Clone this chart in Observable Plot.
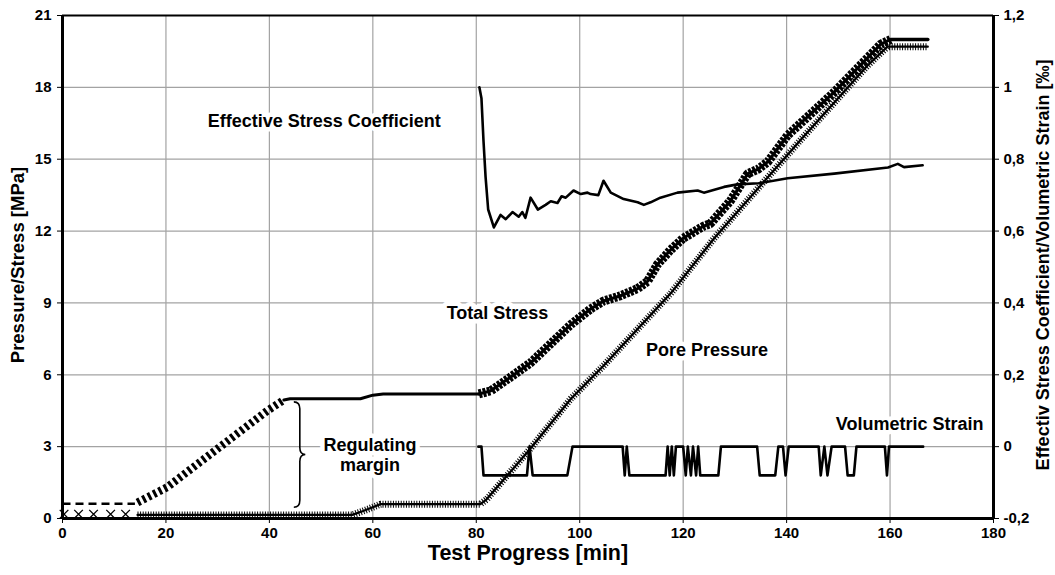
<!DOCTYPE html>
<html>
<head>
<meta charset="utf-8">
<script src="https://cdn.jsdelivr.net/npm/d3@7"></script>
<script src="https://cdn.jsdelivr.net/npm/@observablehq/plot@0.6"></script>
<style>
  html, body { margin: 0; padding: 0; background: #fff; }
  #chart svg { display: block; }
</style>
</head>
<body>
<div id="chart"></div>
<script>
// ---- ticks ----
const xTicks = [0, 20, 40, 60, 80, 100, 120, 140, 160, 180];
const yTicks = [0, 3, 6, 9, 12, 15, 18, 21];
const rightTicks = [-0.2, 0, 0.2, 0.4, 0.6, 0.8, 1, 1.2];
const rightTickLabels = ["-0,2", "0", "0,2", "0,4", "0,6", "0,8", "1", "1,2"];

// ---- Total Stress [MPa] (t in min) ----
const totalStressEarly = [[0, 0.62], [14, 0.62]];
const totalStressRamp1 = [[14.5, 0.67], [20.2, 1.3], [29.9, 2.9], [39.6, 4.5], [42.8, 4.95]];
const totalStressPlateau = [[42.8, 4.95], [44, 5.0], [57.6, 5.0], [60, 5.15], [62, 5.2], [80.5, 5.2]];
const totalStressRamp2 = [[80.5, 5.2], [82.8, 5.33], [86.6, 5.9], [90.5, 6.5], [94.4, 7.3], [98.3, 8.1],
  [102.1, 8.75], [104.6, 9.08], [107.9, 9.3], [111.2, 9.6], [113.1, 9.9], [115.0, 10.6], [117.5, 11.2],
  [120, 11.7], [123.9, 12.2], [125.2, 12.3], [129.1, 13.25], [132.5, 14.4], [134.6, 14.6], [136.4, 14.9],
  [140.2, 16.0], [144.7, 16.9], [149.2, 17.8], [153.7, 18.8], [158.2, 19.8], [160.1, 20.0]];
const totalStressEnd = [[160.1, 20.0], [167.3, 20.0]];

// ---- Pore Pressure [MPa] ----
const poreEarly = [[0.3, 0.18], [3.1, 0.18], [6, 0.18], [9.3, 0.18], [12.2, 0.18]];
const porePressure = [[14.5, 0.15], [56, 0.15], [58, 0.3], [61.5, 0.6], [80.8, 0.6], [82, 0.8],
  [90, 2.8], [98.3, 5.0], [104.7, 6.4], [117.6, 9.4], [126, 11.7], [142.7, 15.8], [155.6, 18.9],
  [159.5, 19.7], [167.3, 19.7]];

// ---- Effective Stress Coefficient [-] (right axis) ----
const effStressCoef = [[80.6, 1.0], [81.0, 0.97], [81.4, 0.85], [81.8, 0.75], [82.3, 0.66], [83.4, 0.61],
  [84.7, 0.645], [85.7, 0.633], [87.0, 0.653], [88.2, 0.64], [88.9, 0.653], [89.5, 0.637], [90.5, 0.693],
  [91.9, 0.66], [93.4, 0.673], [94.4, 0.683], [95.7, 0.678], [96.5, 0.697], [97.3, 0.693], [98.8, 0.713],
  [100.2, 0.703], [101.5, 0.707], [102.1, 0.703], [103.6, 0.70], [104.6, 0.74], [106.0, 0.707],
  [108.5, 0.689], [111.2, 0.68], [112.4, 0.673], [113.7, 0.68], [115.6, 0.693], [118.9, 0.707],
  [122.8, 0.713], [124.0, 0.707], [127.9, 0.723], [130.5, 0.73], [134.6, 0.733], [140.2, 0.747],
  [149.2, 0.76], [159.6, 0.777], [161.5, 0.787], [162.7, 0.778], [166.3, 0.783]];

// ---- Volumetric Strain [‰] (right axis) ----
const volStrain = [[80.4, 0], [81.0, 0], [81.4, -0.08], [89.8, -0.08], [90.3, 0], [90.9, -0.08],
  [97.6, -0.08], [98.6, 0], [108.3, 0], [108.7, -0.08], [109.1, 0], [109.6, -0.08], [116.6, -0.08],
  [117.0, 0], [117.4, -0.08], [117.8, 0], [118.2, -0.08], [118.6, 0], [120.0, 0], [120.5, -0.08],
  [120.9, 0], [121.5, -0.08], [121.9, 0], [122.5, -0.08], [122.9, 0], [123.3, -0.08], [126.8, -0.08],
  [127.3, 0], [134.3, 0], [134.8, -0.08], [137.8, -0.08], [138.4, 0], [139.3, 0], [139.8, -0.08],
  [140.4, 0], [146.2, 0], [146.6, -0.08], [147.3, 0], [147.9, -0.08], [148.7, 0], [151.3, 0],
  [151.8, -0.08], [153.0, -0.08], [153.5, 0], [159.0, 0], [159.4, -0.08], [159.8, 0], [166.4, 0]];

// ---- annotations (data units) ----
const labels = [
  {t: 50.6, p: 16.6, text: "Effective Stress Coefficient"},
  {t: 84.1, p: 8.58, text: "Total Stress"},
  {t: 124.6, p: 7.04, text: "Pore Pressure"},
  {t: 163.8, p: 3.96, text: "Volumetric Strain"},
  {t: 59.45, p: 2.67, text: "Regulating\nmargin"}
];
const brace = {t: 45.4, top: 4.85, bottom: 0.45};

// right axis (coefficient / strain) -> left axis (MPa)
const toLeft = v => (v + 0.2) * 15;
const rightPos = rightTicks.map(toLeft);
const rightLabelFor = d => rightTickLabels[rightPos.findIndex(p => Math.abs(p - d) < 1e-6)];

const X = d => d[0], Y = d => d[1], YR = d => toLeft(d[1]);
const font = "'Liberation Sans', Arial, sans-serif";

const braceMark = (index, scales) => {
  const x0 = scales.x(brace.t), y0 = scales.y(brace.top), y1 = scales.y(brace.bottom);
  const ym = (y0 + y1) / 2, b = x0 + 3, w = 5.5;
  const d = `M${x0 - 3},${y0} Q${b},${y0} ${b},${y0 + 7} L${b},${ym - 7} Q${b},${ym} ${b + w},${ym} ` +
            `Q${b},${ym} ${b},${ym + 7} L${b},${y1 - 7} Q${b},${y1} ${x0 - 3},${y1}`;
  const p = d3.create("svg:path").attr("d", d).attr("fill", "none").attr("stroke", "black").attr("stroke-width", 1.6);
  return p.node();
};

const butt = {strokeLinecap: "butt", strokeLinejoin: "miter"};

const chart = Plot.plot({
  width: 1055,
  height: 575,
  marginLeft: 62,
  marginRight: 62,
  marginTop: 15,
  marginBottom: 57,
  style: {fontFamily: font, background: "white", color: "black"},
  x: {domain: [0, 180]},
  y: {domain: [0, 21]},
  marks: [
    Plot.gridX(xTicks, {stroke: "#a3a3a3", strokeOpacity: 1, strokeWidth: 1.2}),
    Plot.gridY(yTicks, {stroke: "#a3a3a3", strokeOpacity: 1, strokeWidth: 1.2}),

    // Total stress
    Plot.line(totalStressEarly, {x: X, y: Y, stroke: "black", strokeWidth: 2.5, strokeDasharray: "8,5", ...butt}),
    Plot.line(totalStressRamp1, {x: X, y: Y, stroke: "black", strokeWidth: 8, strokeDasharray: "3,3", ...butt}),
    Plot.line(totalStressPlateau, {x: X, y: Y, stroke: "black", strokeWidth: 3}),
    Plot.line(totalStressRamp2, {x: X, y: Y, stroke: "black", strokeWidth: 3}),
    Plot.line(totalStressRamp2, {x: X, y: Y, stroke: "black", strokeWidth: 9, strokeDasharray: "3,1.3", ...butt}),
    Plot.line(totalStressEnd, {x: X, y: Y, stroke: "black", strokeWidth: 3.5}),

    // Pore pressure
    Plot.dot(poreEarly, {x: X, y: Y, symbol: "times", r: 4, stroke: "black", strokeWidth: 1.3}),
    Plot.line(porePressure, {x: X, y: Y, stroke: "black", strokeWidth: 2.2}),
    Plot.line(porePressure, {x: X, y: Y, stroke: "black", strokeWidth: 7, strokeDasharray: "1,1.6", ...butt}),

    // Effective stress coefficient & volumetric strain (right axis)
    Plot.line(effStressCoef, {x: X, y: YR, stroke: "black", strokeWidth: 2.6}),
    Plot.line(volStrain, {x: X, y: YR, stroke: "black", strokeWidth: 2.6}),

    // frame
    Plot.ruleY([21], {stroke: "black", strokeWidth: 1.8}),
    Plot.ruleY([0], {stroke: "black", strokeWidth: 3}),
    Plot.ruleX([0], {stroke: "black", strokeWidth: 3}),
    Plot.ruleX([180], {stroke: "black", strokeWidth: 3}),

    // axes
    Plot.axisX(xTicks, {anchor: "bottom", tickSize: 5, tickPadding: 4, fontSize: 15, fontWeight: "bold", label: null}),
    Plot.axisY(yTicks, {anchor: "left", tickSize: 5, tickPadding: 6, fontSize: 15, fontWeight: "bold", label: null}),
    Plot.axisY(rightPos, {anchor: "right", tickSize: 5, tickPadding: 5, fontSize: 15, fontWeight: "bold",
      tickFormat: rightLabelFor, label: null}),

    // axis titles
    Plot.text(["Test Progress [min]"], {frameAnchor: "bottom", textAnchor: "middle", dy: 41, fontSize: 21.5, fontWeight: "bold"}),
    Plot.text(["Pressure/Stress [MPa]"], {frameAnchor: "left", textAnchor: "middle", dx: -44, dy: -2, rotate: -90, fontSize: 18.5, fontWeight: "bold"}),
    Plot.text(["Effectiv Stress Coefficient/Volumetric Strain [‰]"], {frameAnchor: "right", textAnchor: "middle", dx: 50, dy: -2, rotate: -90, fontSize: 18, fontWeight: "bold"}),

    // annotations
    Plot.text(labels, {x: "t", y: "p", text: "text", fontSize: 18, fontWeight: "bold", fill: "black",
      stroke: "white", strokeWidth: 9, lineHeight: 1.1}),
    braceMark
  ]
});

document.getElementById("chart").appendChild(chart);
</script>
</body>
</html>
